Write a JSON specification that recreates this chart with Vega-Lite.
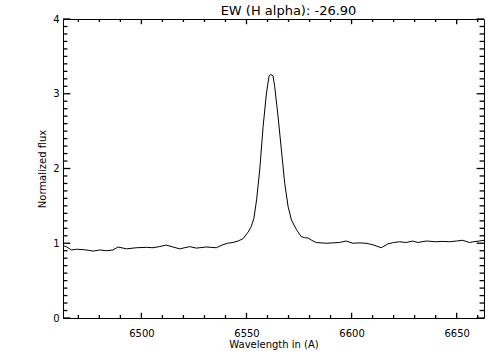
{
  "$schema": "https://vega.github.io/schema/vega-lite/v6.json",
  "width": 421,
  "height": 299,
  "autosize": {"type": "none"},
  "padding": {"left": 63, "top": 19, "right": 20, "bottom": 42},
  "background": "white",
  "title": {"text": "EW (H alpha): -26.90", "font": "DejaVu Sans", "fontSize": 13, "fontWeight": "normal", "color": "black", "offset": -4, "dx": 15, "anchor": "middle"},
  "config": {"view": {"stroke": "black", "strokeWidth": 1}},
  "datasets": {
    "spec": [
      {"wl": 6462.7, "flux": 0.97},
      {"wl": 6464.5, "flux": 0.95},
      {"wl": 6466.7, "flux": 0.91},
      {"wl": 6469.1, "flux": 0.92},
      {"wl": 6472.2, "flux": 0.915},
      {"wl": 6475.0, "flux": 0.905},
      {"wl": 6477.0, "flux": 0.895},
      {"wl": 6480.2, "flux": 0.91},
      {"wl": 6483.4, "flux": 0.9},
      {"wl": 6486.5, "flux": 0.91},
      {"wl": 6488.9, "flux": 0.95},
      {"wl": 6492.9, "flux": 0.925},
      {"wl": 6497.6, "flux": 0.94},
      {"wl": 6502.4, "flux": 0.945},
      {"wl": 6505.5, "flux": 0.94},
      {"wl": 6508.5, "flux": 0.955},
      {"wl": 6511.9, "flux": 0.975},
      {"wl": 6515.0, "flux": 0.95},
      {"wl": 6518.2, "flux": 0.925},
      {"wl": 6523.0, "flux": 0.955},
      {"wl": 6526.1, "flux": 0.935},
      {"wl": 6530.9, "flux": 0.95},
      {"wl": 6535.6, "flux": 0.94},
      {"wl": 6538.8, "flux": 0.98},
      {"wl": 6541.0, "flux": 1.0},
      {"wl": 6543.5, "flux": 1.01},
      {"wl": 6546.0, "flux": 1.03},
      {"wl": 6548.3, "flux": 1.06},
      {"wl": 6550.8, "flux": 1.15},
      {"wl": 6552.2, "flux": 1.22},
      {"wl": 6553.5, "flux": 1.33},
      {"wl": 6554.8, "flux": 1.58},
      {"wl": 6556.3, "flux": 1.98},
      {"wl": 6557.9, "flux": 2.56},
      {"wl": 6559.5, "flux": 3.01},
      {"wl": 6560.7, "flux": 3.23},
      {"wl": 6561.4, "flux": 3.26},
      {"wl": 6562.6, "flux": 3.24},
      {"wl": 6563.4, "flux": 3.1},
      {"wl": 6565.0, "flux": 2.7},
      {"wl": 6566.6, "flux": 2.25},
      {"wl": 6568.2, "flux": 1.8},
      {"wl": 6569.8, "flux": 1.49},
      {"wl": 6571.4, "flux": 1.31},
      {"wl": 6573.8, "flux": 1.18},
      {"wl": 6576.0, "flux": 1.09},
      {"wl": 6577.5, "flux": 1.075},
      {"wl": 6579.3, "flux": 1.07},
      {"wl": 6581.0, "flux": 1.04},
      {"wl": 6583.2, "flux": 1.01},
      {"wl": 6587.9, "flux": 1.0},
      {"wl": 6591.0, "flux": 1.005},
      {"wl": 6594.2, "flux": 1.01},
      {"wl": 6597.4, "flux": 1.03},
      {"wl": 6600.6, "flux": 1.0},
      {"wl": 6603.5, "flux": 1.005},
      {"wl": 6606.9, "flux": 1.0},
      {"wl": 6610.1, "flux": 0.98},
      {"wl": 6614.1, "flux": 0.94},
      {"wl": 6617.2, "flux": 0.99},
      {"wl": 6620.0, "flux": 1.01},
      {"wl": 6622.8, "flux": 1.02},
      {"wl": 6626.0, "flux": 1.01},
      {"wl": 6629.1, "flux": 1.03},
      {"wl": 6631.5, "flux": 1.01},
      {"wl": 6635.5, "flux": 1.03},
      {"wl": 6640.2, "flux": 1.02},
      {"wl": 6643.0, "flux": 1.025},
      {"wl": 6646.5, "flux": 1.02},
      {"wl": 6650.0, "flux": 1.03},
      {"wl": 6652.9, "flux": 1.04},
      {"wl": 6656.0, "flux": 1.01},
      {"wl": 6658.0, "flux": 1.02},
      {"wl": 6660.8, "flux": 1.03},
      {"wl": 6663.0, "flux": 1.04}
    ],
    "xmajor": [{"pos": 6500}, {"pos": 6550}, {"pos": 6600}, {"pos": 6650}],
    "xminor": [{"pos": 6470}, {"pos": 6480}, {"pos": 6490}, {"pos": 6510}, {"pos": 6520}, {"pos": 6530}, {"pos": 6540}, {"pos": 6560}, {"pos": 6570}, {"pos": 6580}, {"pos": 6590}, {"pos": 6610}, {"pos": 6620}, {"pos": 6630}, {"pos": 6640}, {"pos": 6660}],
    "ymajor": [{"pos": 0}, {"pos": 1}, {"pos": 2}, {"pos": 3}, {"pos": 4}],
    "yminor": [{"pos": 0.1}, {"pos": 0.2}, {"pos": 0.3}, {"pos": 0.4}, {"pos": 0.5}, {"pos": 0.6}, {"pos": 0.7}, {"pos": 0.8}, {"pos": 0.9}, {"pos": 1.1}, {"pos": 1.2}, {"pos": 1.3}, {"pos": 1.4}, {"pos": 1.5}, {"pos": 1.6}, {"pos": 1.7}, {"pos": 1.8}, {"pos": 1.9}, {"pos": 2.1}, {"pos": 2.2}, {"pos": 2.3}, {"pos": 2.4}, {"pos": 2.5}, {"pos": 2.6}, {"pos": 2.7}, {"pos": 2.8}, {"pos": 2.9}, {"pos": 3.1}, {"pos": 3.2}, {"pos": 3.3}, {"pos": 3.4}, {"pos": 3.5}, {"pos": 3.6}, {"pos": 3.7}, {"pos": 3.8}, {"pos": 3.9}]
  },
  "layer": [
    {
      "data": {"name": "xmajor"},
      "mark": {"type": "rule", "color": "black", "strokeWidth": 1.3},
      "encoding": {"x": {"field": "pos", "type": "quantitative", "scale": {"domain": [6462.7, 6663], "nice": false, "zero": false}}, "y": {"datum": 0, "type": "quantitative", "scale": {"domain": [0, 4], "nice": false, "zero": false}}, "y2": {"datum": 0.07}}
    },
    {
      "data": {"name": "xminor"},
      "mark": {"type": "rule", "color": "black", "strokeWidth": 1.3},
      "encoding": {"x": {"field": "pos", "type": "quantitative"}, "y": {"datum": 0, "type": "quantitative"}, "y2": {"datum": 0.04}}
    },
    {
      "data": {"name": "xmajor"},
      "mark": {"type": "rule", "color": "black", "strokeWidth": 1.3},
      "encoding": {"x": {"field": "pos", "type": "quantitative"}, "y": {"datum": 4, "type": "quantitative"}, "y2": {"datum": 3.93}}
    },
    {
      "data": {"name": "xminor"},
      "mark": {"type": "rule", "color": "black", "strokeWidth": 1.3},
      "encoding": {"x": {"field": "pos", "type": "quantitative"}, "y": {"datum": 4, "type": "quantitative"}, "y2": {"datum": 3.96}}
    },
    {
      "data": {"name": "ymajor"},
      "mark": {"type": "rule", "color": "black", "strokeWidth": 1.3},
      "encoding": {"y": {"field": "pos", "type": "quantitative"}, "x": {"datum": 6462.7, "type": "quantitative"}, "x2": {"datum": 6466.2}}
    },
    {
      "data": {"name": "yminor"},
      "mark": {"type": "rule", "color": "black", "strokeWidth": 1.3},
      "encoding": {"y": {"field": "pos", "type": "quantitative"}, "x": {"datum": 6462.7, "type": "quantitative"}, "x2": {"datum": 6464.8}}
    },
    {
      "data": {"name": "ymajor"},
      "mark": {"type": "rule", "color": "black", "strokeWidth": 1.3},
      "encoding": {"y": {"field": "pos", "type": "quantitative"}, "x": {"datum": 6663, "type": "quantitative"}, "x2": {"datum": 6659.5}}
    },
    {
      "data": {"name": "yminor"},
      "mark": {"type": "rule", "color": "black", "strokeWidth": 1.3},
      "encoding": {"y": {"field": "pos", "type": "quantitative"}, "x": {"datum": 6663, "type": "quantitative"}, "x2": {"datum": 6660.9}}
    },
    {
      "data": {"name": "spec"},
      "mark": {"type": "line", "color": "black", "strokeWidth": 1, "clip": true},
      "encoding": {
        "x": {"field": "wl", "type": "quantitative",
          "axis": {"orient": "bottom", "values": [6500, 6550, 6600, 6650], "format": "d", "ticks": false, "tickSize": 0, "domain": false, "grid": false,
            "labelFont": "DejaVu Sans", "labelFontSize": 10, "labelColor": "black", "labelPadding": 18.5, "labelBaseline": "alphabetic",
            "title": "Wavelength in (A)", "titleFont": "DejaVu Sans", "titleFontSize": 10, "titleFontWeight": "normal", "titleColor": "black", "titleY": 29, "titleBaseline": "alphabetic"}},
        "y": {"field": "flux", "type": "quantitative",
          "axis": {"orient": "left", "values": [0, 1, 2, 3, 4], "format": "d", "ticks": false, "tickSize": 0, "domain": false, "grid": false,
            "labelFont": "DejaVu Sans", "labelFontSize": 10, "labelColor": "black", "labelPadding": 4,
            "title": "Normalized flux", "titleFont": "DejaVu Sans", "titleFontSize": 10, "titleFontWeight": "normal", "titleColor": "black", "titleX": -18, "titleBaseline": "alphabetic", "titleAngle": 270}}
      }
    }
  ]
}
